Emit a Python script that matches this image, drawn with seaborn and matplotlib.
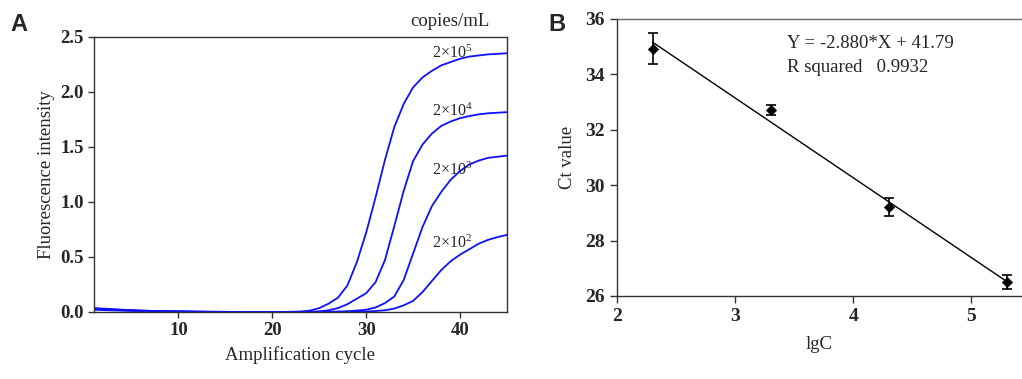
import numpy as np
import pandas as pd
import matplotlib.pyplot as plt
import seaborn as sns

# Panel A: amplification curves (fluorescence per cycle)
cycles = list(range(1, 46))
baseline_5 = [0.035, 0.030, 0.025, 0.020, 0.016, 0.013, 0.010, 0.008, 0.006, 0.005,
              0.004, 0.003, 0.002, 0.001, 0.001, 0.000, 0.000, 0.000, 0.000, 0.000,
              0.000, 0.001]
conc_2e5 = baseline_5 + [0.003, 0.012, 0.035, 0.075, 0.13, 0.24, 0.45, 0.72, 1.04, 1.38,
                         1.68, 1.89, 2.04, 2.13, 2.19, 2.24, 2.27, 2.30, 2.32, 2.33,
                         2.34, 2.345, 2.35]
conc_2e4 = [0.030, 0.026, 0.022, 0.018, 0.014, 0.011, 0.009, 0.007, 0.005, 0.004,
            0.003, 0.002, 0.001, 0.001, 0.000, 0.000, 0.000, 0.000, 0.000, 0.000,
            0.000, 0.000, 0.001, 0.002, 0.005, 0.015, 0.035, 0.07, 0.12, 0.17,
            0.27, 0.47, 0.78, 1.10, 1.37, 1.52, 1.62, 1.69, 1.73, 1.76,
            1.78, 1.795, 1.805, 1.81, 1.815]
conc_2e3 = [0.025, 0.022, 0.018, 0.015, 0.012, 0.009, 0.007, 0.005, 0.004, 0.003,
            0.002, 0.001, 0.001, 0.000, 0.000, 0.000, 0.000, 0.000, 0.000, 0.000,
            0.000, 0.000, 0.000, 0.000, 0.001, 0.002, 0.003, 0.006, 0.012, 0.02,
            0.04, 0.08, 0.14, 0.29, 0.53, 0.77, 0.96, 1.09, 1.20, 1.28,
            1.34, 1.375, 1.40, 1.41, 1.42]
conc_2e2 = [0.020, 0.017, 0.014, 0.012, 0.010, 0.008, 0.006, 0.004, 0.003, 0.002,
            0.001, 0.001, 0.000, 0.000, 0.000, 0.000, 0.000, 0.000, 0.000, 0.000,
            0.000, 0.000, 0.000, 0.000, 0.000, 0.000, 0.001, 0.001, 0.002, 0.004,
            0.008, 0.015, 0.03, 0.06, 0.10, 0.18, 0.28, 0.38, 0.46, 0.52,
            0.57, 0.62, 0.655, 0.68, 0.70]
curve_labels = [r"2$\times$10$^{5}$", r"2$\times$10$^{4}$", r"2$\times$10$^{3}$", r"2$\times$10$^{2}$"]
label_y = [2.35, 1.82, 1.29, 0.62]

# Panel B: standard curve
lgc = [2.301, 3.301, 4.301, 5.301]
ct_mean = [34.92, 32.72, 29.21, 26.51]
ct_err = [0.56, 0.18, 0.32, 0.25]
slope = -2.880
intercept = 41.79
r_squared = 0.9932

df_a = pd.DataFrame({
    "cycle": cycles * 4,
    "fluor": conc_2e5 + conc_2e4 + conc_2e3 + conc_2e2,
    "conc": sum([[lab] * len(cycles) for lab in curve_labels], []),
})
df_b = pd.DataFrame({"lgC": lgc, "Ct": ct_mean, "err": ct_err})
fit_x = np.array([lgc[0], lgc[-1]])
df_fit = pd.DataFrame({"lgC": fit_x, "Ct": slope * fit_x + intercept})

sns.set_theme(style="ticks")
plt.rcParams["font.family"] = ["Liberation Serif", "DejaVu Serif"]
plt.rcParams["mathtext.fontset"] = "custom"
plt.rcParams["mathtext.rm"] = "Liberation Serif"
plt.rcParams["mathtext.it"] = "Liberation Serif:italic"
plt.rcParams["axes.edgecolor"] = "#333333"
plt.rcParams["axes.linewidth"] = 1.0

fig = plt.figure(figsize=(10.22, 3.79), dpi=100)
ax1 = fig.add_axes([0.092, 0.177, 0.404, 0.726])
ax2 = fig.add_axes([0.6037, 0.219, 0.3963, 0.731])

# A
sns.lineplot(data=df_a, x="cycle", y="fluor", hue="conc", palette=["#1010ff"] * 4,
             linewidth=1.3, legend=False, ax=ax1)
ax1.set_xlim(1, 45)
ax1.set_ylim(0, 2.5)
ax1.set_xticks([10, 20, 30, 40])
ax1.set_yticks([0.0, 0.5, 1.0, 1.5, 2.0, 2.5])
ax1.set_yticklabels([f"{v:.1f}" for v in [0.0, 0.5, 1.0, 1.5, 2.0, 2.5]])
ax1.set_xlabel("Amplification cycle", fontsize=13.5, labelpad=5)
ax1.set_ylabel("Fluorescence intensity", fontsize=13.5, labelpad=4)
ax1.tick_params(axis="both", labelsize=13.5, length=4, width=1, color="#333333")
for lab in ax1.get_xticklabels() + ax1.get_yticklabels():
    lab.set_fontweight("bold")
for lab, y in zip(curve_labels, label_y):
    ax1.text(37.0, y, lab, fontsize=11.5, va="center", ha="left")
ax1.text(38.9, 2.64, "copies/mL", fontsize=13.5, ha="center", va="center", clip_on=False)

# B
sns.lineplot(data=df_fit, x="lgC", y="Ct", color="black", linewidth=1.0, ax=ax2)
ax2.errorbar(df_b["lgC"], df_b["Ct"], yerr=df_b["err"], fmt="none", ecolor="black",
             elinewidth=1.2, capsize=3.5, capthick=1.2)
sns.scatterplot(data=df_b, x="lgC", y="Ct", marker="D", color="black", s=28,
                edgecolor="black", zorder=5, ax=ax2)
ax2.set_xlim(2, 5.43)
ax2.set_ylim(26, 36)
ax2.set_xticks([2, 3, 4, 5])
ax2.set_yticks([26, 28, 30, 32, 34, 36])
ax2.set_xlabel("lgC", fontsize=13.5, labelpad=8)
ax2.set_ylabel("Ct value", fontsize=13.5, labelpad=7)
ax2.tick_params(axis="both", labelsize=14, length=5, width=1, color="#333333")
for lab in ax2.get_xticklabels() + ax2.get_yticklabels():
    lab.set_fontweight("bold")
ax2.spines["right"].set_visible(False)
ax2.spines["top"].set_color("#666666")
ax2.text(3.44, 35.13, f"Y = {slope:.3f}*X + {intercept:.2f}", fontsize=13.5, va="center")
ax2.text(3.44, 34.23, f"R squared   {r_squared:.4f}", fontsize=13.5, va="center")

fig.text(0.010, 0.935, "A", fontsize=17, fontweight="bold", family="Liberation Sans", va="center")
fig.text(0.537, 0.935, "B", fontsize=17, fontweight="bold", family="Liberation Sans", va="center")

fig.savefig("out.png", dpi=100)
